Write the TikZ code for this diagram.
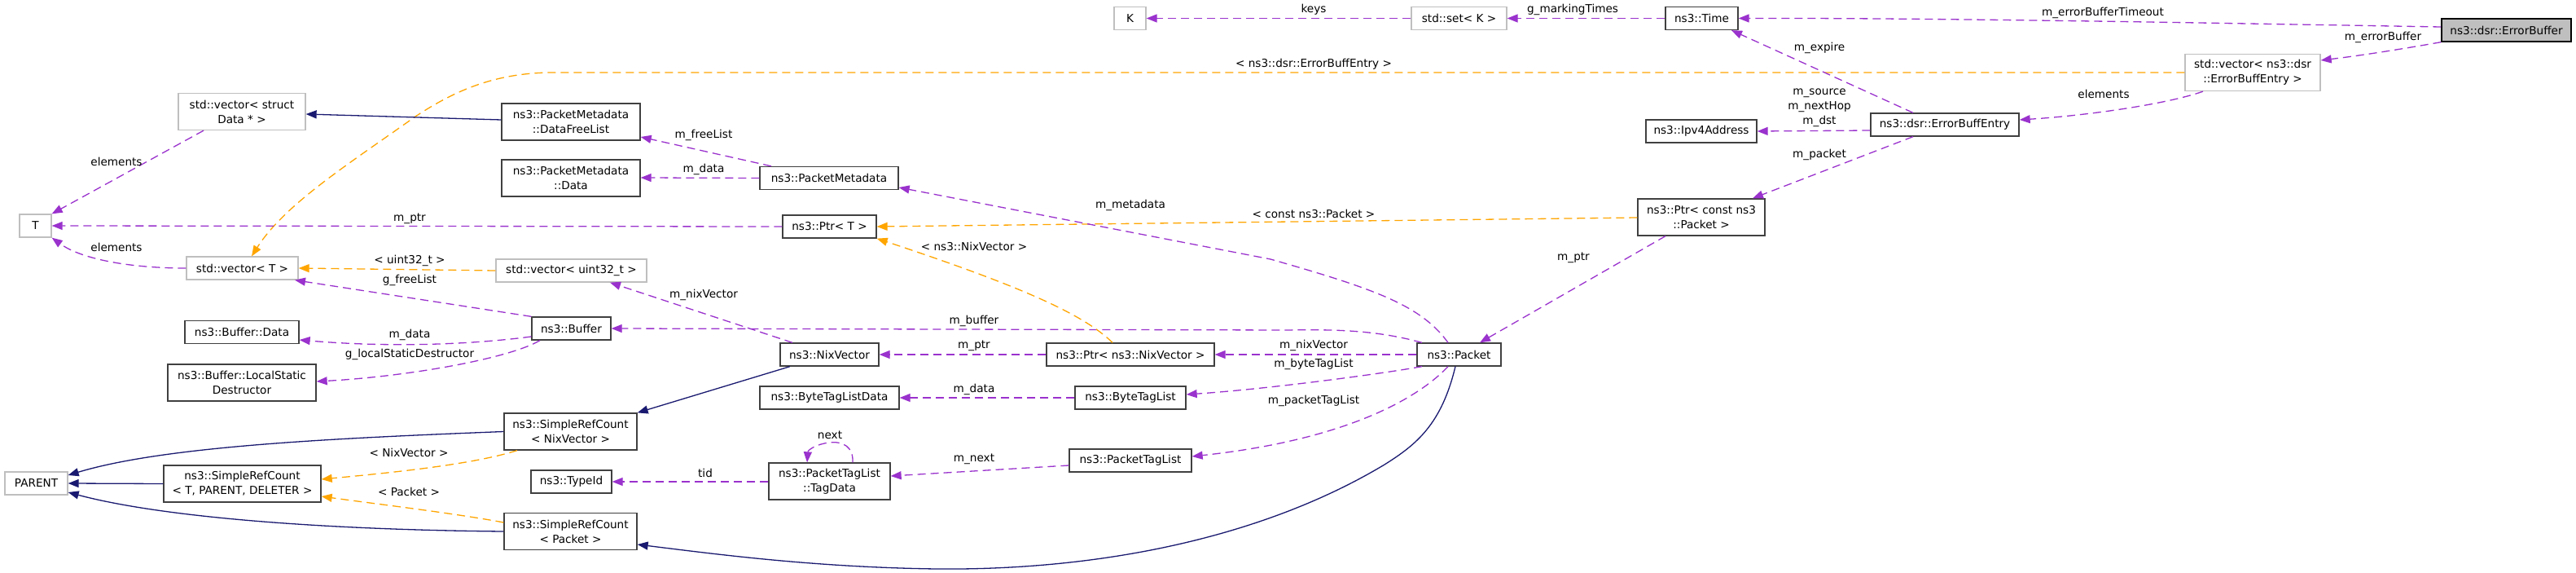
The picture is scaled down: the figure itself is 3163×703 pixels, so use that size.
\documentclass[tikz,border=0pt]{standalone}
\usepackage{fontspec}
\setmainfont{DejaVu Sans}
\usetikzlibrary{arrows.meta,calc}
\definecolor{pur}{HTML}{9A32CD}
\definecolor{org}{HTML}{FFA500}
\definecolor{nav}{HTML}{191970}
\definecolor{bord}{HTML}{404040}
\definecolor{extb}{HTML}{BFBFBF}
\definecolor{rootf}{HTML}{BFBFBF}
\begin{document}
\begin{tikzpicture}[x=1pt,y=-1pt,
  font=\fontsize{13.6}{18}\selectfont,
  box/.style={draw=bord, line width=1.3pt, fill=white, inner sep=0pt, align=center, minimum height=28pt},
  cls/.style={box},
  twol/.style={minimum height=45pt},
  ext/.style={box, draw=extb},
  rootbox/.style={box, fill=rootf, draw=black},
  lbl/.style={inner sep=0pt, align=center},
  pe/.style={color=pur, line width=1.3pt, dash pattern=on 10pt off 6pt, -{Triangle[length=13pt,width=10pt]}},
  oe/.style={color=org, line width=1.3pt, dash pattern=on 10pt off 6pt, -{Triangle[length=13pt,width=10pt]}},
  ne/.style={color=nav, line width=1.3pt, -{Triangle[length=13pt,width=10pt]}}
]
\useasboundingbox (0,0) rectangle (3163,703);
% nodes
\node[rootbox, minimum width=159pt] (errbuf) at (3077.5,37) {ns3::dsr::ErrorBuffer};
\node[cls, minimum width=89pt] (time) at (2089.5,22.5) {ns3::Time};
\node[ext, minimum width=117pt] (setk) at (1791.5,22.5) {std::set< K >};
\node[ext, minimum width=39pt] (K) at (1387.5,22.5) {K};
\node[ext, twol, minimum width=166pt] (vecebe) at (2766,89) {std::vector< ns3::dsr\\::ErrorBuffEntry >};
\node[cls, minimum width=182pt] (ebe) at (2388,153) {ns3::dsr::ErrorBuffEntry};
\node[cls, minimum width=136pt] (ipv4) at (2089,161) {ns3::Ipv4Address};
\node[cls, twol, minimum width=156pt] (ptrcp) at (2089,266.5) {ns3::Ptr< const ns3\\::Packet >};
\node[cls, minimum width=103pt] (packet) at (1791.5,435) {ns3::Packet};
\node[ext, twol, minimum width=156pt] (vecsd) at (297,137) {std::vector< struct\\Data * >};
\node[cls, twol, minimum width=170pt] (dfl) at (701,149.5) {ns3::PacketMetadata\\::DataFreeList};
\node[cls, twol, minimum width=170pt] (pmd) at (701,218.5) {ns3::PacketMetadata\\::Data};
\node[cls, minimum width=170pt] (pm) at (1018,218.5) {ns3::PacketMetadata};
\node[ext, minimum width=39pt] (T) at (43.5,277) {T};
\node[cls, minimum width=115pt] (ptrt) at (1018.5,278) {ns3::Ptr< T >};
\node[ext, minimum width=137pt] (vect) at (297.5,329) {std::vector< T >};
\node[ext, minimum width=185pt] (vecu) at (701.5,332) {std::vector< uint32\_t >};
\node[cls, minimum width=97pt] (buffer) at (701.5,403) {ns3::Buffer};
\node[cls, minimum width=140pt] (bufdata) at (297,407.5) {ns3::Buffer::Data};
\node[cls, twol, minimum width=182pt] (lsd) at (297,469.5) {ns3::Buffer::LocalStatic\\Destructor};
\node[cls, minimum width=121pt] (nix) at (1018.5,435) {ns3::NixVector};
\node[cls, minimum width=206pt] (ptrnix) at (1388,435) {ns3::Ptr< ns3::NixVector >};
\node[cls, minimum width=171pt] (btld) at (1018.5,488) {ns3::ByteTagListData};
\node[cls, minimum width=136pt] (btl) at (1388,488) {ns3::ByteTagList};
\node[cls, twol, minimum width=163pt] (srcnix) at (700.5,529.5) {ns3::SimpleRefCount\\< NixVector >};
\node[ext, minimum width=77pt] (parent) at (44.5,593) {PARENT};
\node[cls, twol, minimum width=193pt] (srctpd) at (297.5,593.5) {ns3::SimpleRefCount\\< T, PARENT, DELETER >};
\node[cls, twol, minimum width=163pt] (srcpkt) at (700.5,652) {ns3::SimpleRefCount\\< Packet >};
\node[cls, minimum width=99pt] (typeid) at (701.5,591) {ns3::TypeId};
\node[cls, twol, minimum width=149pt] (tagdata) at (1018.5,590.5) {ns3::PacketTagList\\::TagData};
\node[cls, minimum width=150pt] (ptl) at (1388,565) {ns3::PacketTagList};
% edges
\draw[pe] (errbuf.west |- 0,33) .. controls (2750,29) and (2400,22) .. (time.east);
\draw[pe] (errbuf.south west) .. controls (2950,60) and (2900,68) .. (vecebe.east |- 0,74);
\draw[pe] (time.west) -- (setk.east);
\draw[pe] (setk.west) -- (K.east);
\draw[pe] (vecebe.south -| 2705,0) .. controls (2660,128) and (2560,142) .. (ebe.east |- 0,147);
\draw[oe] (vecebe.west) -- (680,89) .. controls (610,89) and (560,110) .. (510,143) .. controls (430,200) and (350,250) .. (vect.north -| 309,0);
\draw[pe] (ebe.north -| 2349,0) -- (time.south -| 2126,0);
\draw[pe] (ebe.west |- 0,160) -- (ipv4.east);
\draw[pe] (ebe.south -| 2349,0) -- (ptrcp.north -| 2152,0);
\draw[oe] (ptrcp.west |- 0,267) -- (ptrt.east);
\draw[pe] (ptrcp.south -| 2045,0) -- (packet.north -| 1817,0);
\draw[pe] (packet.west) -- (ptrnix.east);
\draw[pe] (packet.south -| 1746,0) .. controls (1700,458) and (1560,477) .. (btl.east |- 0,484);
\draw[pe] (packet.south -| 1778,0) .. controls (1740,490) and (1650,540) .. (ptl.east |- 0,560);
\draw[pe] (packet.north -| 1746,0) .. controls (1690,405) and (1640,404) .. (1580,405) -- (buffer.east);
\draw[pe] (packet.north -| 1778,0) .. controls (1745,375) and (1690,355) .. (1560,318) -- (pm.east |- 0,230);
\draw[ne] (packet.south -| 1787,0) .. controls (1770,520) and (1740,545) .. (1700,570) .. controls (1550,660) and (1350,700) .. (1150,698) .. controls (1000,696) and (880,680) .. (srcpkt.east |- 0,668);
\draw[pe] (ptrnix.west) -- (nix.east);
\draw[oe] (ptrnix.north -| 1366,0) .. controls (1330,385) and (1250,350) .. (ptrt.south east);
\draw[pe] (btl.west) -- (btld.east);
\draw[pe] (ptl.west |- 0,571) -- (tagdata.east |- 0,584);
\draw[pe] (tagdata.north -| 1047,0) .. controls (1048,548) and (1035,541) .. (1018,543) .. controls (1002,545) and (992,552) .. (tagdata.north -| 991,0);
\draw[pe] (tagdata.west |- 0,591) -- (typeid.east);
\draw[ne] (nix.south -| 970,0) -- (srcnix.north east);
\draw[pe] (nix.north -| 973,0) -- (vecu.south -| 749,0);
\draw[pe] (pm.north -| 947,0) -- (dfl.east |- 0,168);
\draw[pe] (pm.west) -- (pmd.east |- 0,218);
\draw[ne] (dfl.west |- 0,147) -- (vecsd.east |- 0,140);
\draw[pe] (vecsd.south -| 250,0) -- (T.north east);
\draw[pe] (ptrt.west) -- (T.east);
\draw[pe] (vect.west) .. controls (160,329) and (100,318) .. (T.south east);
\draw[oe] (vecu.west) -- (vect.east);
\draw[pe] (buffer.north west) -- (vect.south -| 362,0);
\draw[pe] (buffer.west |- 0,413) .. controls (560,425) and (460,425) .. (bufdata.east |- 0,417);
\draw[pe] (buffer.south -| 663,0) .. controls (625,440) and (500,462) .. (lsd.east |- 0,468);
\draw[ne] (srcnix.west) .. controls (400,538) and (200,548) .. (parent.east |- 0,583);
\draw[ne] (srctpd.west) -- (parent.east);
\draw[ne] (srcpkt.west) .. controls (400,650) and (200,635) .. (parent.east |- 0,604);
\draw[oe] (srcnix.south -| 635,0) .. controls (580,570) and (480,580) .. (srctpd.east |- 0,588);
\draw[oe] (srcpkt.west |- 0,641) .. controls (560,630) and (460,618) .. (srctpd.east |- 0,609);
% labels
\node[lbl] (l1) at (2582,16) {m\_errorBufferTimeout};
\node[lbl] (l2) at (2926,46) {m\_errorBuffer};
\node[lbl] (l3) at (1931,12) {g\_markingTimes};
\node[lbl] (l4) at (1613,12) {keys};
\node[lbl] (l5) at (2583,115) {elements};
\node[lbl] (l6) at (1613,79) {< ns3::dsr::ErrorBuffEntry >};
\node[lbl] (l7) at (2234,59) {m\_expire};
\node[lbl] (l8) at (2234,132) {m\_source\\m\_nextHop\\m\_dst};
\node[lbl] (l9) at (2234,190) {m\_packet};
\node[lbl] (l10) at (1613,262) {< const ns3::Packet >};
\node[lbl] (l11) at (1932,316) {m\_ptr};
\node[lbl] (l12) at (1613,424) {m\_nixVector};
\node[lbl] (l13) at (1613,447) {m\_byteTagList};
\node[lbl] (l14) at (1613,492) {m\_packetTagList};
\node[lbl] (l15) at (1196,394) {m\_buffer};
\node[lbl] (l16) at (1388,252) {m\_metadata};
\node[lbl] (l17) at (1196,424) {m\_ptr};
\node[lbl] (l18) at (1196,302) {< ns3::NixVector >};
\node[lbl] (l19) at (1196,478) {m\_data};
\node[lbl] (l20) at (1196,563) {m\_next};
\node[lbl] (l21) at (1019,534) {next};
\node[lbl] (l22) at (866,580) {tid};
\node[lbl] (l23) at (864,362) {m\_nixVector};
\node[lbl] (l24) at (864,166) {m\_freeList};
\node[lbl] (l25) at (864,208) {m\_data};
\node[lbl] (l26) at (143,198) {elements};
\node[lbl] (l27) at (503,268) {m\_ptr};
\node[lbl] (l28) at (143,303) {elements};
\node[lbl] (l29) at (503,320) {< uint32\_t >};
\node[lbl] (l30) at (503,344) {g\_freeList};
\node[lbl] (l31) at (503,411) {m\_data};
\node[lbl] (l32) at (503,435) {g\_localStaticDestructor};
\node[lbl] (l33) at (502,555) {< NixVector >};
\node[lbl] (l34) at (502,603) {< Packet >};
\end{tikzpicture}
\end{document}
